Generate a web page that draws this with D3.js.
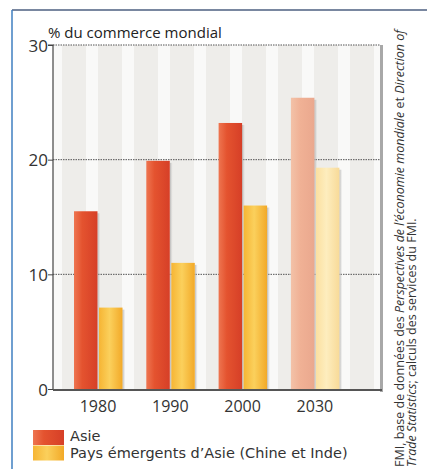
<!DOCTYPE html>
<html>
  <head>
    <meta charset="UTF-8" />
    <style>
      body { margin: 0; background: #fff; }
      svg { display: block; font-family: "Open Sans", sans-serif; }
    </style>
  </head>
  <body>
    <svg width="427" height="469"></svg>
    <script src="https://d3js.org/d3.v7.min.js"></script>
    <script>
      // data
      const years = ["1980", "1990", "2000", "2030"];
      const asie = [15.5, 19.9, 23.2, 25.4];
      const emergents = [7.1, 11.0, 16.0, 19.3];
      const yTicks = [0, 10, 20, 30];
      const seriesNames = ["Asie", "Pays émergents d’Asie (Chine et Inde)"];

      const svg = d3.select("svg");
      const margin = { left: 53, right: 380, top: 45, bottom: 389 };

      // one band per year, red bar then yellow bar inside it
      const x = d3.scaleBand().domain(years).range([62, 351.2]);
      const y = d3.scaleLinear().domain([0, 30]).range([margin.bottom, margin.top]);

      // gradients for the cylinder look
      const defs = svg.append("defs");
      function grad(id, stops) {
        let g = defs.append("linearGradient").attr("id", id)
          .attr("x1", 0).attr("x2", 1).attr("y1", 0).attr("y2", 0);
        stops.forEach((s) => g.append("stop").attr("offset", s[0]).attr("stop-color", s[1]));
      }
      grad("red", [[0, "#ee7550"], [0.35, "#e4532f"], [1, "#d63f27"]]);
      grad("yel", [[0, "#f6b534"], [0.45, "#fbd05c"], [1, "#f2a928"]]);
      grad("redPale", [[0, "#f3c2a8"], [0.4, "#f0b195"], [1, "#eaa88e"]]);
      grad("yelPale", [[0, "#fbe0a0"], [0.45, "#fdedbe"], [1, "#f8da98"]]);
      grad("shade", [[0, "#9a9a9a"], [1, "rgba(200,200,200,0)"]]);

      // faint vertical stripes of the paper texture
      const pat = defs.append("pattern").attr("id", "stripes")
        .attr("patternUnits", "userSpaceOnUse").attr("width", 36).attr("height", 10);
      pat.append("rect").attr("width", 36).attr("height", 10).attr("fill", "#eeedea");
      pat.append("rect").attr("x", 14).attr("width", 12).attr("height", 10).attr("fill", "#f9f9f8");

      // frame
      svg.append("line").attr("x1", 12).attr("x2", 427).attr("y1", 10).attr("y2", 10)
        .attr("stroke", "#4c5f80").attr("stroke-width", 1.5);
      svg.append("line").attr("x1", 12).attr("x2", 12).attr("y1", 10).attr("y2", 469)
        .attr("stroke", "#3f7fc0").attr("stroke-width", 1.5);

      // plot background
      svg.append("rect").attr("x", margin.left).attr("y", margin.top)
        .attr("width", margin.right - margin.left).attr("height", margin.bottom - margin.top)
        .attr("fill", "url(#stripes)");
      // right shadow edge
      svg.append("rect").attr("x", margin.right).attr("y", margin.top)
        .attr("width", 3).attr("height", margin.bottom - margin.top + 3)
        .attr("fill", "#a8a8a8");

      // grid lines
      svg.append("g").selectAll("line").data(yTicks.filter((d) => d > 0)).join("line")
        .attr("x1", margin.left).attr("x2", margin.right)
        .attr("y1", (d) => y(d)).attr("y2", (d) => y(d))
        .attr("stroke", "#555").attr("stroke-width", 1).attr("stroke-dasharray", "1.5,1");

      // bars
      const bw = 23.5;
      const groups = svg.append("g").selectAll("g").data(years).join("g");
      groups.each(function (yr, i) {
        const g = d3.select(this);
        const pale = yr === "2030";
        [asie[i], emergents[i]].forEach((v, k) => {
          const bx = x(yr) + 12 + k * (bw + 1.5);
          g.append("rect").attr("x", bx + bw).attr("y", y(v) + 2)
            .attr("width", 3).attr("height", y(0) - y(v) - 2)
            .attr("fill", "url(#shade)").attr("opacity", 0.7);
          g.append("rect").attr("x", bx).attr("y", y(v))
            .attr("width", bw).attr("height", y(0) - y(v))
            .attr("fill", k === 0 ? (pale ? "url(#redPale)" : "url(#red)") : (pale ? "url(#yelPale)" : "url(#yel)"));
        });
      });

      // y axis
      const yAxis = svg.append("g").attr("transform", `translate(${margin.left},0)`)
        .call(d3.axisLeft(y).tickValues(yTicks).tickSize(5).tickFormat(d3.format("d")));
      yAxis.select(".domain").attr("stroke", "#444").attr("stroke-width", 1.2).attr("d", `M-5,${y(30)}H0V${y(0)}`);
      yAxis.selectAll(".tick line").attr("stroke", "#444");
      yAxis.selectAll(".tick text").attr("font-size", 17).attr("fill", "#333")
        .attr("font-family", "Open Sans, sans-serif").attr("x", -5).attr("dy", "0.36em");

      // x baseline
      svg.append("line").attr("x1", margin.left).attr("x2", margin.right + 2)
        .attr("y1", y(0) + 1).attr("y2", y(0) + 1).attr("stroke", "#555").attr("stroke-width", 2);

      // x labels
      svg.append("g").selectAll("text").data(years).join("text")
        .attr("x", (d) => x(d) + 36).attr("y", 412)
        .attr("text-anchor", "middle").attr("font-size", 16).attr("fill", "#333")
        .text((d) => d);

      // title
      svg.append("text").attr("x", 48).attr("y", 38).attr("font-size", 15)
        .attr("fill", "#222").text("% du commerce mondial");

      // legend
      const leg = svg.append("g");
      seriesNames.forEach((name, i) => {
        leg.append("rect").attr("x", 33).attr("y", 430 + i * 15.5)
          .attr("width", 31).attr("height", 15)
          .attr("fill", i === 0 ? "url(#red)" : "url(#yel)");
        leg.append("text").attr("x", 70).attr("y", 441 + i * 17)
          .attr("font-family", "DejaVu Sans, sans-serif")
          .attr("font-size", 14.5).attr("fill", "#333").text(name);
      });

      // source (rotated)
      const src = svg.append("g").attr("transform", "translate(404,467) rotate(-90)")
        .attr("font-size", 12.5).attr("fill", "#333");
      const l1 = src.append("text").attr("x", 0).attr("y", 0);
      l1.append("tspan").text("FMI, base de données des ");
      l1.append("tspan").attr("font-style", "italic").text("Perspectives de l’économie mondiale");
      l1.append("tspan").text(" et ");
      l1.append("tspan").attr("font-style", "italic").text("Direction of");
      const l2 = src.append("text").attr("x", 0).attr("y", 11.5);
      l2.append("tspan").attr("font-style", "italic").text("Trade Statistics");
      l2.append("tspan").text("; calculs des services du FMI.");
    </script>
  </body>
</html>
